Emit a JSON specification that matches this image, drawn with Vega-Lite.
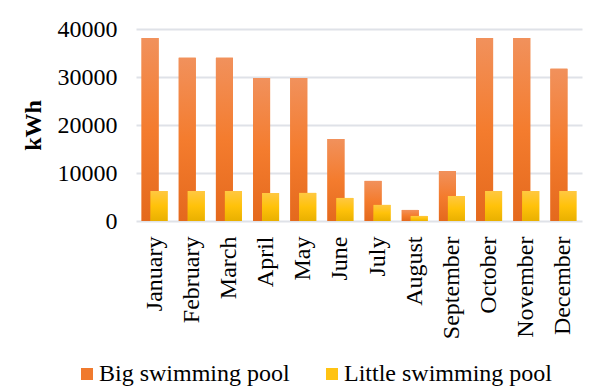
{
  "$schema": "https://vega.github.io/schema/vega-lite/v6.json",
  "autosize": "none",
  "width": 446,
  "height": 192,
  "padding": {"left": 136, "top": 29, "right": 14, "bottom": 167},
  "background": "white",
  "config": {
    "view": {"stroke": null},
    "font": "Liberation Serif"
  },
  "data": {
    "values": [
      {"month": "January", "pool": "Big swimming pool", "kWh": 38100},
      {"month": "February", "pool": "Big swimming pool", "kWh": 34000},
      {"month": "March", "pool": "Big swimming pool", "kWh": 34000},
      {"month": "April", "pool": "Big swimming pool", "kWh": 29800},
      {"month": "May", "pool": "Big swimming pool", "kWh": 29800},
      {"month": "June", "pool": "Big swimming pool", "kWh": 17100},
      {"month": "July", "pool": "Big swimming pool", "kWh": 8350},
      {"month": "August", "pool": "Big swimming pool", "kWh": 2300},
      {"month": "September", "pool": "Big swimming pool", "kWh": 10400},
      {"month": "October", "pool": "Big swimming pool", "kWh": 38100},
      {"month": "November", "pool": "Big swimming pool", "kWh": 38100},
      {"month": "December", "pool": "Big swimming pool", "kWh": 31700},
      {"month": "January", "pool": "Little swimming pool", "kWh": 6250},
      {"month": "February", "pool": "Little swimming pool", "kWh": 6250},
      {"month": "March", "pool": "Little swimming pool", "kWh": 6250},
      {"month": "April", "pool": "Little swimming pool", "kWh": 5850},
      {"month": "May", "pool": "Little swimming pool", "kWh": 5850},
      {"month": "June", "pool": "Little swimming pool", "kWh": 4800},
      {"month": "July", "pool": "Little swimming pool", "kWh": 3350},
      {"month": "August", "pool": "Little swimming pool", "kWh": 1050},
      {"month": "September", "pool": "Little swimming pool", "kWh": 5200},
      {"month": "October", "pool": "Little swimming pool", "kWh": 6250},
      {"month": "November", "pool": "Little swimming pool", "kWh": 6250},
      {"month": "December", "pool": "Little swimming pool", "kWh": 6250}
    ]
  },
  "encoding": {
    "x": {
      "field": "month",
      "type": "nominal",
      "sort": null,
      "scale": {"paddingInner": 0, "paddingOuter": 0},
      "axis": {
        "title": null,
        "labelAngle": -90,
        "labelFont": "Liberation Serif",
        "labelFontSize": 24,
        "labelColor": "#000000",
        "labelPadding": 15,
        "ticks": false,
        "domain": false
      }
    },
    "y": {
      "field": "kWh",
      "type": "quantitative",
      "scale": {"domain": [0, 40000], "nice": false},
      "axis": {
        "values": [0, 10000, 20000, 30000, 40000],
        "format": "d",
        "title": "kWh",
        "titleFont": "Liberation Serif",
        "titleFontSize": 24,
        "titleFontWeight": "bold",
        "titleColor": "#000000",
        "titlePadding": 12,
        "labelFont": "Liberation Serif",
        "labelFontSize": 24,
        "labelColor": "#000000",
        "labelPadding": 19,
        "ticks": false,
        "domain": false,
        "grid": true,
        "gridColor": "#dfe2e8",
        "gridWidth": 2
      }
    }
  },
  "layer": [
    {
      "transform": [{"filter": "datum.pool === 'Big swimming pool'"}],
      "mark": {"type": "bar", "width": 17, "xOffset": -4.5},
      "encoding": {
        "color": {
          "field": "pool",
          "type": "nominal",
          "scale": {"domain": ["Big swimming pool", "Little swimming pool"], "range": ["#F07A2E", "#FFC312"]},
          "legend": {
            "title": null,
            "orient": "none",
            "direction": "horizontal",
            "legendX": -61,
            "legendY": 333,
            "symbolType": "square",
            "symbolSize": 144,
            "symbolStrokeWidth": 0,
            "labelFont": "Liberation Serif",
            "labelFontSize": 24,
            "labelColor": "#000000",
            "labelOffset": 0,
            "columnPadding": 30,
            "labelLimit": 400
          }
        }
      }
    },
    {
      "transform": [{"filter": "datum.pool === 'Big swimming pool'"}],
      "mark": {
        "type": "bar",
        "width": 17,
        "xOffset": -4.5,
        "color": {
          "gradient": "linear",
          "x1": 0, "y1": 0, "x2": 0, "y2": 1,
          "stops": [
            {"offset": 0, "color": "#F1915C"},
            {"offset": 0.5, "color": "#F47C2E"},
            {"offset": 1, "color": "#E4691D"}
          ]
        }
      }
    },
    {
      "transform": [{"filter": "datum.pool === 'Little swimming pool'"}],
      "mark": {"type": "bar", "width": 17, "xOffset": 4.5},
      "encoding": {
        "color": {"field": "pool", "type": "nominal"}
      }
    },
    {
      "transform": [{"filter": "datum.pool === 'Little swimming pool'"}],
      "mark": {
        "type": "bar",
        "width": 17,
        "xOffset": 4.5,
        "color": {
          "gradient": "linear",
          "x1": 0, "y1": 0, "x2": 0, "y2": 1,
          "stops": [
            {"offset": 0, "color": "#FFC842"},
            {"offset": 0.5, "color": "#FFC20A"},
            {"offset": 1, "color": "#E9B000"}
          ]
        }
      }
    }
  ]
}
